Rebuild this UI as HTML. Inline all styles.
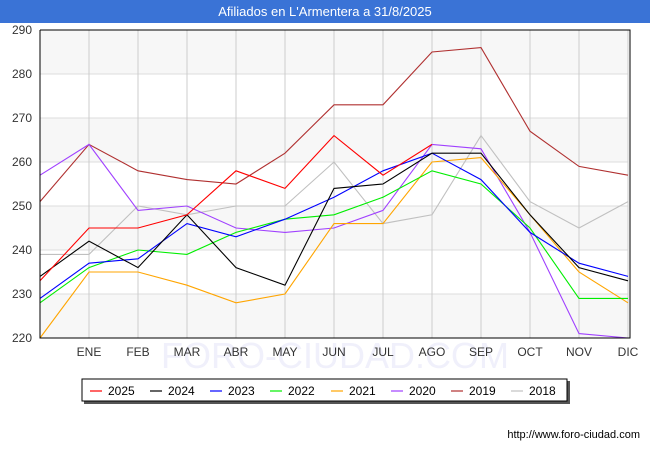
<!DOCTYPE html>
<html><head><meta charset="utf-8"><style>
body{margin:0;width:650px;height:450px;background:#fff;font-family:"Liberation Sans",sans-serif;overflow:hidden}
#title{position:absolute;left:0;top:0;width:650px;height:23px;background:#3a73d6;color:#fff;font-size:13px;text-align:center;line-height:23px}
</style></head><body>
<div id="title">Afiliados en L'Armentera a 31/8/2025</div>
<svg id="chart" width="650" height="450" style="position:absolute;left:0;top:0"></svg>
<script>
const months=["","ENE","FEB","MAR","ABR","MAY","JUN","JUL","AGO","SEP","OCT","NOV","DIC"];
const yTicks=[220,230,240,250,260,270,280,290];
const seriesNames=["2025","2024","2023","2022","2021","2020","2019","2018"];
const seriesColors=["#ff0000","#000000","#0000ff","#00ee00","#ffa500","#a040ff","#b03030","#c0c0c0"];
const s2025=[233,245,245,248,258,254,266,257,264];
const s2024=[234,242,236,248,236,232,254,255,262,262,248,236,233];
const s2023=[229,237,238,246,243,247,252,258,262,256,244,237,234];
const s2022=[228,236,240,239,244,247,248,252,258,255,245,229,229];
const s2021=[220,235,235,232,228,230,246,246,260,261,248,235,228];
const s2020=[257,264,249,250,245,244,245,249,264,263,244,221,220];
const s2019=[251,264,258,256,255,262,273,273,285,286,267,259,257];
const s2018=[239,239,250,248,250,250,260,246,248,266,251,245,251];
const allSeries=[s2025,s2024,s2023,s2022,s2021,s2020,s2019,s2018];
const svg=document.getElementById('chart');const NS="http://www.w3.org/2000/svg";
const L=40,R=628,T=30,B=338;
const x=i=>L+i*(R-L)/12;
const y=v=>B-(v-220)*(B-T)/70;
function mk(t,a,p){const e=document.createElementNS(NS,t);for(const k in a)e.setAttribute(k,a[k]);(p||svg).appendChild(e);return e;}
const wm=mk('text',{x:335,y:368,'text-anchor':'middle','font-size':36,fill:'#f0f0fb'});wm.textContent="FORO-CIUDAD.COM";

for(let i=0;i<yTicks.length-1;i++){
 if(i%2==0){const r=mk('rect',{x:L,y:y(yTicks[i+1]),width:R-L,height:y(yTicks[i])-y(yTicks[i+1]),fill:'#f7f7f7'});
 }
}
yTicks.forEach(v=>{const g=mk('line',{x1:L,x2:R,y1:y(v),y2:y(v),stroke:'#ddd'});

const t=mk('text',{x:L-8,y:y(v)+4,'text-anchor':'end','font-size':12,fill:'#333'});t.textContent=v;
});
months.forEach((m,i)=>{if(i>0){const g=mk('line',{x1:x(i),x2:x(i),y1:T,y2:B,stroke:'#ccc'});
}
const t=mk('text',{x:x(i),y:B+18,'text-anchor':'middle','font-size':12,fill:'#333'});t.textContent=m;
});
for(let k=allSeries.length-1;k>=0;k--){const d=allSeries[k];
 const p=mk('polyline',{points:d.map((v,i)=>x(i)+','+y(v)).join(' '),fill:'none',stroke:seriesColors[k],'stroke-width':1.1});
 }
mk('polyline',{points:`${L},${T} ${L},${B} ${R+2},${B} ${R+2},${T} ${L},${T}`,fill:'none',stroke:'#000'});
const lg=mk('g',{});
mk('rect',{x:84,y:381,width:486,height:23,fill:'#555'},lg);
mk('rect',{x:82,y:379,width:485,height:22,fill:'#fff',stroke:'#000'},lg);
const lx=[90,150,210,270,331,391,451,511];
seriesNames.forEach((n,k)=>{const e=mk('g',{},lg);
mk('line',{x1:lx[k],x2:lx[k]+12,y1:391,y2:391,stroke:seriesColors[k],'stroke-width':1.2},e);
const t=mk('text',{x:lx[k]+18,y:395,'font-size':12,fill:'#000'},e);t.textContent=n;});
const u=mk('text',{x:640,y:438,'text-anchor':'end','font-size':11,fill:'#000'});u.textContent="http://www.foro-ciudad.com";

</script>
</body></html>
